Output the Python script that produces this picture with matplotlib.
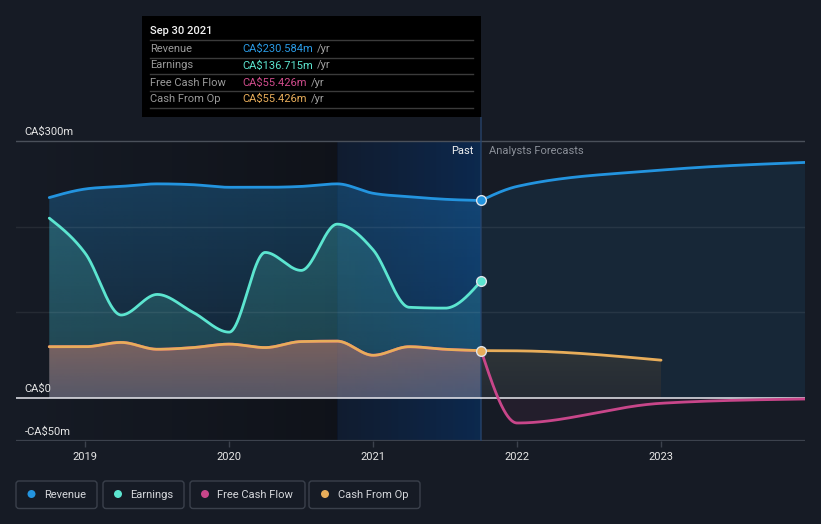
import numpy as np
import matplotlib
matplotlib.use("Agg")
import matplotlib.pyplot as plt
from matplotlib.patches import FancyBboxPatch, Ellipse, Rectangle
from matplotlib.lines import Line2D

plt.rcParams['font.family'] = ['Roboto', 'DejaVu Sans']

# ---------------- data ----------------
past_x = [2018.75, 2019.0, 2019.25, 2019.5, 2019.75, 2020.0, 2020.25,
          2020.5, 2020.75, 2021.0, 2021.25, 2021.5, 2021.75]
revenue_past = [234, 244, 247, 250, 249, 246, 246, 247, 250, 239, 235, 232, 230.584]
earnings_past = [210, 169, 97, 121, 100, 77, 170, 149, 203, 173, 106, 105, 136.715]
cfo_past = [60, 60, 65, 57, 59, 63, 59, 66, 66.5, 50, 60, 57, 55.426]
fcf_past = [60, 60, 65, 57, 59, 63, 59, 66, 66.5, 50, 60, 57, 55.426]

revenue_fc_x = [2021.75, 2022.0, 2023.0, 2024.0]
revenue_fc = [230.584, 247, 266, 275]
fcf_fc_x = [2021.75, 2022.0, 2023.0, 2024.0]
fcf_fc = [55.426, -29, -6, -1]
cfo_fc_x = [2021.75, 2022.0, 2023.0]
cfo_fc = [55.426, 55.2, 44.3]

year_ticks = [2019, 2020, 2021, 2022, 2023]
year_labels = ["2019", "2020", "2021", "2022", "2023"]
y_ticks = [300, 0, -50]
y_labels = ["CA$300m", "CA$0", "-CA$50m"]
legend_names = ["Revenue", "Earnings", "Free Cash Flow", "Cash From Op"]

C_REV = "#2394df"
C_EARN = "#5ce5d0"
C_FCF = "#c8468a"
C_CFO = "#e8ad5a"
BG = "#161b25"

W, H = 821, 524


def monotone(x, y, per=80):
    x = np.asarray(x, float)
    y = np.asarray(y, float)
    n = len(x)
    h = np.diff(x)
    s = np.diff(y) / h
    m = np.zeros(n)
    if n == 2:
        m[:] = s[0]
    else:
        for i in range(1, n - 1):
            s0, s1, h0, h1 = s[i - 1], s[i], h[i - 1], h[i]
            p = (s0 * h1 + s1 * h0) / (h0 + h1)
            m[i] = (np.sign(s0) + np.sign(s1)) * min(abs(s0), abs(s1), 0.5 * abs(p))
        m[0] = (3 * s[0] - m[1]) / 2
        m[-1] = (3 * s[-1] - m[-2]) / 2
    xs, ys = [], []
    for i in range(n - 1):
        t = np.linspace(0, 1, per, endpoint=(i == n - 2))
        hh = h[i]
        h00 = 2 * t**3 - 3 * t**2 + 1
        h10 = t**3 - 2 * t**2 + t
        h01 = -2 * t**3 + 3 * t**2
        h11 = t**3 - t**2
        xs.append(x[i] + t * hh)
        ys.append(h00 * y[i] + h10 * hh * m[i] + h01 * y[i + 1] + h11 * hh * m[i + 1])
    return np.concatenate(xs), np.concatenate(ys)


def rgba(c, a):
    c = matplotlib.colors.to_rgb(c)
    return (c[0], c[1], c[2], a)


def grad_image(ax, x0, x1, y0, y1, c_start, c_end, horizontal=True, zorder=1, clip=None):
    n = 256
    t = np.linspace(0, 1, n)[:, None]
    cs = np.array(c_start)[None, :]
    ce = np.array(c_end)[None, :]
    cols = cs + t * (ce - cs)
    if horizontal:
        arr = cols[None, :, :]
    else:
        arr = cols[:, None, :]
    im = ax.imshow(arr, extent=[x0, x1, y0, y1], origin='lower', aspect='auto',
                   interpolation='bilinear', zorder=zorder)
    if clip is not None:
        im.set_clip_path(clip.get_paths()[0], transform=ax.transData)
    return im


def grad_fill(ax, xs, ys, base, c_top, c_bot, zorder):
    poly = ax.fill_between(xs, base, ys, facecolor='none', edgecolor='none', zorder=zorder)
    ymin = min(np.min(ys), base)
    ymax = max(np.max(ys), base)
    grad_image(ax, xs[0], xs[-1], ymin, ymax, c_bot, c_top, horizontal=False,
               zorder=zorder, clip=poly)


fig = plt.figure(figsize=(W / 100, H / 100), dpi=100, facecolor=BG)
ax_l, ax_r, ax_t, ax_b = 16, 805, 117, 441
ax = fig.add_axes([ax_l / W, 1 - ax_b / H, (ax_r - ax_l) / W, (ax_b - ax_t) / H])
ax.set_facecolor(BG)
XMIN, XMAX = 2018.519, 2024.0
YMIN, YMAX = -50, 328

# past darkening and highlight (below the 300 gridline only)
grad_image(ax, XMIN, 2020.75, YMIN, 300, (0.03, 0.03, 0.04, 0.0), (0.03, 0.03, 0.04, 0.42), zorder=0.5)
grad_image(ax, 2020.75, 2021.75, YMIN, 300, (0.0, 0.12, 0.30, 0.20), (0.0, 0.20, 0.45, 0.40), zorder=0.6)

# smooth curves
rx, ry = monotone(past_x, revenue_past)
ex, ey = monotone(past_x, earnings_past)
cx, cy = monotone(past_x, cfo_past)
fx, fy = monotone(past_x, fcf_past)
rfx, rfy = monotone(revenue_fc_x, revenue_fc)
ffx, ffy = monotone(fcf_fc_x, fcf_fc)
cfx, cfy = monotone(cfo_fc_x, cfo_fc)

# past fills
grad_fill(ax, rx, ry, 0, rgba(C_REV, 0.30), rgba(C_REV, 0.10), zorder=1)
grad_fill(ax, ex, ey, 0, rgba(C_EARN, 0.20), rgba(C_EARN, 0.15), zorder=1.1)
grad_fill(ax, cx, cy, 0, (0.70, 0.45, 0.40, 0.62), (0.52, 0.42, 0.50, 0.55), zorder=1.2)

# forecast fills
ax.fill_between(rfx, 0, rfy, facecolor=C_REV, alpha=0.10, lw=0, zorder=1)
grad_fill(ax, cfx, cfy, 0, (0.19, 0.21, 0.22, 0.95), (0.15, 0.17, 0.20, 0.9), zorder=1.2)
ax.fill_between(ffx, 0, ffy, where=ffy < 0, facecolor=C_FCF, alpha=0.08, lw=0, zorder=1.2,
                interpolate=True)

# light top overlay of highlight
grad_image(ax, 2020.75, 2021.75, YMIN, 300, (0.05, 0.25, 0.55, 0.04), (0.05, 0.3, 0.6, 0.13), zorder=1.5)

# grid
for v in [100, 200]:
    ax.axhline(v, color="white", alpha=0.07, lw=1, zorder=2)
ax.axhline(300, color="#4a505a", lw=1, zorder=2)
ax.axhline(0, color="#e8e8ee", lw=1.1, zorder=2.5)
ax.axhline(YMIN, color="#3c424d", lw=1.6, zorder=2)
ax.axvline(2021.75, color="#27456e", lw=1.2, alpha=0.8, zorder=2)

# lines
lw = 2.0
ax.plot(rx, ry, color=C_REV, lw=lw, zorder=5, solid_capstyle='round')
ax.plot(rfx, rfy, color=C_REV, lw=lw, zorder=5, solid_capstyle='round')
ax.plot(ex, ey, color=C_EARN, lw=lw, zorder=5, solid_capstyle='round')
ax.plot(fx, fy, color=C_FCF, lw=lw, zorder=4.8, solid_capstyle='round')
ax.plot(ffx, ffy, color=C_FCF, lw=lw, zorder=4.8, solid_capstyle='round')
ax.plot(cx, cy, color=C_CFO, lw=lw, zorder=5, solid_capstyle='round')
ax.plot(cfx, cfy, color=C_CFO, lw=lw, zorder=5, solid_capstyle='round')

# dots
for val, col in [(revenue_past[-1], C_REV), (earnings_past[-1], C_EARN), (cfo_past[-1], C_CFO)]:
    ax.plot([past_x[-1]], [val], 'o', ms=7, mfc=col, mec="#dfe3ea", mew=1.0, zorder=7)

ax.set_xlim(XMIN, XMAX)
ax.set_ylim(YMIN, YMAX)
ax.set_xticks(year_ticks)
ax.set_xticklabels(year_labels)
ax.tick_params(axis='x', colors="#3c424d", length=4, width=1, labelcolor="#e6e6e6",
               labelsize=8, pad=4)
ax.set_yticks([])
for s in ax.spines.values():
    s.set_visible(False)

# y labels (above lines)
for v, lab in zip(y_ticks, y_labels):
    ax.text(XMIN + 0.06, v + 5, lab, color="#e6e6e6", fontsize=8, ha='left', va='bottom', zorder=8)

# Past / Analysts Forecasts
ax.text(2021.75 - 0.055, 288, "Past", color="#f0f0f0", fontsize=8, ha='right', va='center', zorder=8)
ax.text(2021.75 + 0.055, 288, "Analysts Forecasts", color="#8b9099", fontsize=8, ha='left', va='center', zorder=8)


def fx_(x):
    return x / W


def fy_(y):
    return 1 - y / H


# tooltip
fig.add_artist(Rectangle((142, H - 117), 481 - 142, 117 - 16, transform=None,
                         facecolor="#000000", edgecolor="none", zorder=10))
fig.text(fx_(150), fy_(31), "Sep 30 2021", color="#f2f2f2", fontsize=8, fontweight='medium',
         va='center', ha='left', zorder=11)
for yl in [40, 57.5, 74.3, 91, 108]:
    fig.add_artist(Line2D([150, 473], [H - yl, H - yl], transform=None, color="#3b3b3b", lw=1, zorder=11))
rows = [("Revenue", "CA$230.584m", "#2a9be6"), ("Earnings", "CA$136.715m", C_EARN),
        ("Free Cash Flow", "CA$55.426m", "#d04c8c"), ("Cash From Op", "CA$55.426m", C_CFO)]
row_y = [48.5, 65.5, 82.5, 99.3]
fig.canvas.draw()
renderer = fig.canvas.get_renderer()
for (lab, val, col), yy in zip(rows, row_y):
    fig.text(fx_(150), fy_(yy), lab, color="#9a9a9a", fontsize=8, va='center', ha='left', zorder=11)
    t = fig.text(fx_(242), fy_(yy), val, color=col, fontsize=8, va='center', ha='left', zorder=11)
    bb = t.get_window_extent(renderer)
    fig.text((bb.x1 + 4) / W, fy_(yy), "/yr", color="#a0a0a0", fontsize=8, va='center', ha='left', zorder=11)

# legend
boxes = [(16, 97), (103, 184), (190, 305), (309, 420)]
dots_x = [31.5, 118, 205, 325]
text_x = [44.5, 130, 217, 337.5]
cols = [C_REV, C_EARN, C_FCF, C_CFO]
for (x0, x1), dx, tx, name, col in zip(boxes, dots_x, text_x, legend_names, cols):
    fig.add_artist(FancyBboxPatch((x0, H - 508.5), x1 - x0, 27.5, transform=None,
                                  boxstyle="round,pad=0,rounding_size=3",
                                  facecolor=BG, edgecolor="#3a404b", lw=1))
    fig.add_artist(Ellipse((dx, H - 494), 8, 8, transform=None, facecolor=col, edgecolor='none'))
    fig.text(fx_(tx), fy_(494.5), name, color="#d6d8dc", fontsize=8, va='center', ha='left')

fig.savefig("out.png", dpi=100, facecolor=BG)
